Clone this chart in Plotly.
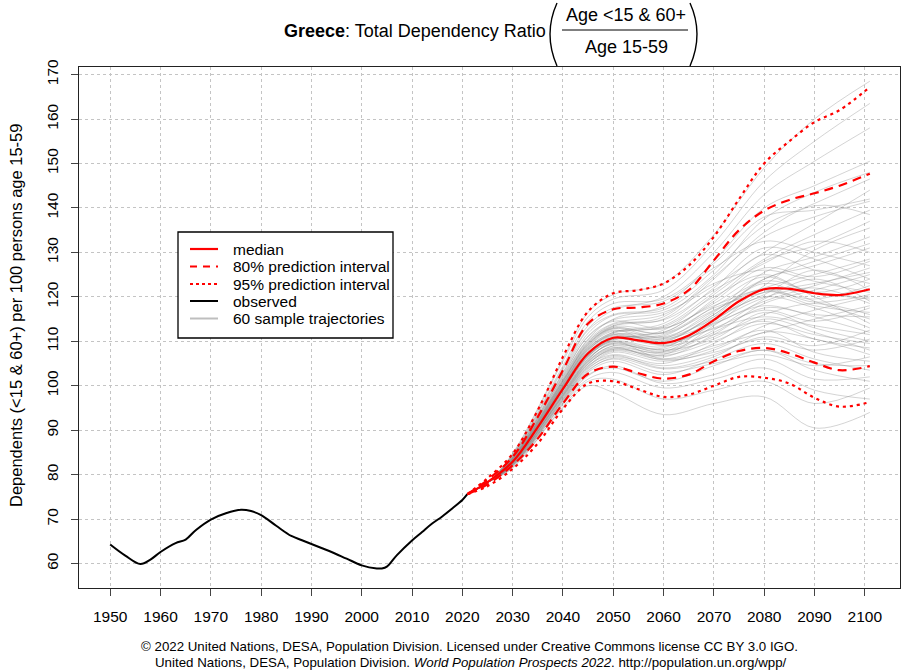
import plotly.graph_objects as go

# ---------------- data ----------------
OBS_YEARS = [1950, 1953, 1956, 1958, 1960, 1963, 1965, 1967, 1970, 1973, 1976, 1978,
             1980, 1983, 1986, 1988, 1990, 1992, 1994, 1997, 2000, 2003, 2004, 2005,
             2007, 2010, 2012, 2014, 2016, 2018, 2020, 2021]
OBS_VALUES = [64.3, 61.8, 59.9, 60.9, 62.6, 64.6, 65.4, 67.5, 69.9, 71.3, 72.1, 71.8,
              70.9, 68.5, 66.2, 65.3, 64.4, 63.5, 62.6, 61.1, 59.6, 58.9, 58.9, 59.3,
              61.9, 65.2, 67.1, 69.0, 70.6, 72.4, 74.3, 75.6]

PROJ_YEARS = [2021, 2025, 2030, 2035, 2040, 2045, 2050, 2055, 2060, 2065, 2070, 2075,
              2080, 2085, 2090, 2095, 2101]
MEDIAN = [75.6, 78.3, 82.9, 90.7, 99.3, 107.3, 110.8, 110.2, 109.6, 111.3, 114.8, 119.0,
          121.7, 121.8, 120.8, 120.4, 121.7]
UPPER80 = [75.6, 78.8, 84.0, 93.0, 103.5, 114.0, 117.2, 117.6, 118.5, 121.5, 128.2, 135.0,
           139.4, 141.8, 143.3, 145.0, 147.7]
LOWER80 = [75.6, 77.8, 82.1, 88.1, 96.0, 102.7, 104.3, 102.8, 101.6, 102.5, 105.5, 107.8,
           108.5, 107.3, 105.2, 103.5, 104.4]
UPPER95 = [75.6, 79.2, 84.7, 94.5, 106.5, 116.7, 120.8, 121.5, 123.0, 127.0, 133.5, 142.0,
           150.0, 155.0, 159.3, 162.0, 167.2]
LOWER95 = [75.6, 77.4, 81.3, 87.0, 94.8, 100.5, 101.0, 99.2, 97.5, 98.0, 100.0, 102.0,
           101.8, 100.5, 97.3, 95.3, 96.3]

TRAJ_STEM_YEARS = [2021, 2025]
TRAJ_STEM_VALUES = [75.6, 78.2]
TRAJ_YEARS = [2030, 2040, 2045, 2050, 2060, 2070, 2080, 2090, 2101]
TRAJECTORIES = [
    [83.1, 99.8, 108.0, 111.5, 110.2, 116.0, 123.5, 121.0, 119.5],
    [82.5, 97.5, 104.5, 107.0, 105.0, 109.5, 115.0, 112.0, 108.0],
    [84.2, 103.0, 112.5, 116.0, 117.5, 126.0, 136.0, 141.0, 146.5],
    [82.0, 96.2, 102.5, 104.0, 101.0, 104.5, 108.0, 103.5, 101.0],
    [83.6, 101.0, 109.5, 113.0, 112.0, 119.5, 128.0, 131.5, 137.0],
    [82.8, 98.5, 106.0, 109.5, 107.5, 112.0, 117.5, 116.0, 115.5],
    [84.6, 105.5, 115.5, 119.5, 121.5, 132.0, 146.0, 155.0, 163.5],
    [81.5, 95.0, 100.0, 98.5, 93.5, 96.0, 97.5, 90.5, 94.0],
    [83.3, 100.2, 108.5, 112.0, 114.0, 122.0, 131.0, 128.5, 124.0],
    [82.3, 97.0, 104.0, 106.5, 104.5, 107.0, 111.0, 109.0, 112.5],
    [83.9, 102.5, 111.0, 114.5, 113.0, 118.0, 121.5, 118.0, 116.5],
    [82.6, 98.0, 105.5, 109.0, 108.5, 115.5, 124.0, 127.0, 131.0],
    [83.0, 99.5, 107.0, 110.0, 106.0, 108.5, 112.5, 107.5, 105.5],
    [84.0, 102.0, 110.5, 115.0, 118.0, 128.0, 140.0, 145.0, 150.5],
    [82.9, 99.0, 106.5, 110.5, 111.5, 117.0, 122.0, 125.0, 128.5],
    [83.4, 100.5, 108.8, 112.5, 109.0, 111.5, 114.5, 110.5, 108.5],
    [81.8, 95.8, 101.5, 103.0, 99.5, 101.5, 104.0, 99.0, 97.0],
    [83.7, 101.5, 110.0, 113.5, 115.5, 124.5, 133.5, 138.0, 141.5],
    [82.4, 97.8, 105.0, 108.0, 107.0, 113.5, 121.0, 119.5, 122.5],
    [83.2, 100.0, 107.5, 111.0, 110.5, 114.0, 119.0, 122.5, 126.5],
    [84.4, 104.0, 113.5, 117.5, 119.0, 126.5, 132.5, 130.0, 127.0],
    [82.1, 96.5, 103.0, 105.5, 102.5, 106.0, 109.5, 106.0, 103.5],
    [83.0, 99.2, 106.8, 110.2, 112.5, 120.5, 128.5, 134.0, 139.5],
    [82.7, 98.2, 105.8, 109.8, 108.0, 110.5, 116.5, 113.0, 110.0],
    [83.5, 100.8, 109.0, 112.8, 111.0, 116.5, 125.5, 129.0, 133.5],
    [82.2, 97.2, 104.2, 107.5, 105.5, 108.0, 113.5, 117.0, 120.0],
    [84.8, 106.0, 116.5, 120.5, 123.0, 134.0, 149.0, 160.0, 168.5],
    [83.1, 99.6, 107.3, 110.8, 109.5, 113.0, 117.0, 114.5, 117.5],
    [81.6, 95.3, 101.0, 101.5, 97.0, 99.0, 101.0, 96.0, 99.5],
    [83.8, 101.8, 110.3, 114.0, 116.0, 123.0, 126.0, 123.5, 121.0],
    [82.5, 97.6, 104.8, 108.3, 106.5, 111.5, 118.5, 121.5, 125.0],
    [83.3, 100.3, 108.3, 111.8, 113.5, 121.0, 129.5, 126.0, 123.0],
    [82.8, 98.8, 106.3, 109.3, 107.8, 112.5, 119.5, 124.0, 119.0],
    [84.1, 102.8, 111.8, 115.8, 117.0, 125.0, 137.5, 143.5, 148.0],
    [82.0, 96.8, 103.5, 106.0, 103.0, 105.0, 107.0, 104.5, 106.5],
    [83.6, 101.2, 109.2, 113.2, 112.8, 118.5, 124.5, 120.0, 114.0],
    [82.9, 99.0, 106.6, 110.0, 108.8, 114.5, 122.5, 130.5, 135.5],
    [83.4, 100.6, 108.7, 112.3, 110.8, 115.0, 120.0, 117.5, 113.0],
    [82.3, 97.3, 104.4, 107.8, 106.0, 109.0, 112.0, 115.0, 118.0],
    [84.3, 103.6, 112.8, 117.0, 120.0, 130.0, 143.0, 150.5, 158.0],
    [83.0, 99.4, 107.0, 110.6, 109.8, 116.0, 123.0, 119.0, 115.0],
    [82.6, 98.1, 105.4, 108.6, 105.8, 107.5, 110.5, 108.0, 110.5],
    [83.7, 101.4, 109.8, 113.8, 114.8, 121.5, 127.5, 132.5, 130.0],
    [82.2, 96.9, 103.8, 106.8, 104.0, 106.5, 112.0, 110.5, 107.0],
    [83.2, 100.0, 108.1, 111.4, 112.0, 119.0, 126.5, 124.5, 128.0],
    [81.9, 96.0, 102.2, 104.5, 100.5, 102.5, 106.0, 101.5, 102.0],
    [83.9, 102.2, 111.2, 114.8, 116.5, 122.5, 130.0, 136.5, 144.0],
    [82.7, 98.4, 105.6, 108.9, 107.2, 111.0, 116.0, 118.5, 116.0],
    [83.5, 100.9, 109.3, 112.9, 111.8, 117.5, 121.0, 123.0, 125.5],
    [82.4, 97.7, 104.9, 108.2, 106.8, 110.0, 114.0, 111.5, 109.5],
    [84.5, 104.5, 114.5, 118.5, 119.5, 127.5, 138.0, 139.5, 142.0],
    [83.1, 99.7, 107.6, 111.2, 110.0, 115.5, 120.5, 126.0, 121.5],
    [82.8, 98.6, 106.0, 109.6, 108.2, 113.8, 118.0, 115.5, 112.0],
    [83.4, 100.4, 108.4, 112.0, 113.2, 120.0, 125.0, 121.0, 124.0],
    [82.1, 96.6, 103.3, 106.2, 103.8, 105.5, 108.0, 105.0, 104.5],
    [83.6, 101.1, 109.6, 113.4, 115.0, 124.0, 134.5, 140.5, 138.5],
    [82.9, 99.1, 106.7, 110.4, 109.2, 112.8, 115.5, 113.5, 111.5],
    [83.0, 99.3, 106.9, 110.7, 111.2, 117.8, 124.0, 128.0, 132.0],
    [82.5, 97.9, 105.2, 108.5, 107.6, 114.2, 119.8, 122.0, 118.5],
    [83.2, 99.9, 107.9, 111.6, 110.6, 116.8, 121.8, 118.8, 120.5],
]

X_TICKS = list(range(1950, 2101, 10))
Y_TICKS = list(range(60, 171, 10))

LEGEND_LABELS = ["median", "80% prediction interval", "95% prediction interval",
                 "observed", "60 sample trajectories"]

# ---------------- layout helpers (pixel -> paper) ----------------
W, H = 906, 672
ML, MR, MT, MB = 79, 6, 67, 84
PW, PH = W - ML - MR, H - MT - MB


def px(x):
    return (x - ML) / PW


def py(y):
    return (H - MB - y) / PH


FONT = "Liberation Sans, Arial, Helvetica, sans-serif"
RED = "#ff0000"
TRAJ_COLOR = "rgba(135,135,135,0.36)"
DOT = "3px,4px"
DASH = "9px,6px"

fig = go.Figure()

# sample trajectories
for traj in TRAJECTORIES:
    fig.add_trace(go.Scatter(
        x=TRAJ_STEM_YEARS + TRAJ_YEARS, y=TRAJ_STEM_VALUES + traj,
        mode="lines", line=dict(color=TRAJ_COLOR, width=1, shape="spline"),
        name=LEGEND_LABELS[4], showlegend=False, hoverinfo="skip"))

# observed
fig.add_trace(go.Scatter(x=OBS_YEARS, y=OBS_VALUES, mode="lines",
                         line=dict(color="black", width=2, shape="spline"),
                         name=LEGEND_LABELS[3], showlegend=False))

# intervals and median
for vals, dash, label in [(UPPER95, DOT, LEGEND_LABELS[2]), (LOWER95, DOT, LEGEND_LABELS[2]),
                          (UPPER80, DASH, LEGEND_LABELS[1]), (LOWER80, DASH, LEGEND_LABELS[1]),
                          (MEDIAN, "solid", LEGEND_LABELS[0])]:
    fig.add_trace(go.Scatter(x=PROJ_YEARS, y=vals, mode="lines",
                             line=dict(color=RED, width=2.2, dash=dash, shape="spline"),
                             name=label, showlegend=False))

axis_common = dict(
    showgrid=True, gridcolor="#c4c4c4", griddash="dot", gridwidth=1,
    showline=True, linecolor="#222222", linewidth=1, mirror=True,
    ticks="outside", ticklen=7, tickcolor="#444444", tickwidth=1,
    tickfont=dict(family=FONT, size=15.5, color="black"),
    zeroline=False,
)

fig.update_layout(
    width=W, height=H,
    margin=dict(l=ML, r=MR, t=MT, b=MB),
    paper_bgcolor="white", plot_bgcolor="white",
    font=dict(family=FONT, color="black"),
    showlegend=False,
    xaxis=dict(range=[1943.8, 2107.0], tickvals=X_TICKS, ticklabelstandoff=7, **axis_common),
    yaxis=dict(range=[54.5, 171.7], tickvals=Y_TICKS, tickangle=-90, ticklabelstandoff=7,
               **axis_common),
)

annotations = [
    dict(text="<b>Greece</b>: Total Dependency Ratio", x=px(548), y=py(31),
         xanchor="right", yanchor="middle", font=dict(size=18)),
    dict(text="Age &lt;15 &amp; 60+", x=px(626), y=py(15),
         xanchor="center", yanchor="middle", font=dict(size=18)),
    dict(text="Age 15-59", x=px(626), y=py(47),
         xanchor="center", yanchor="middle", font=dict(size=18)),
    dict(text="Dependents (&lt;15 &amp; 60+) per 100 persons age 15-59",
         x=px(16), y=py(316), textangle=-90,
         xanchor="center", yanchor="middle", font=dict(size=16.5)),
    dict(text="© 2022 United Nations, DESA, Population Division. Licensed under Creative Commons license CC BY 3.0 IGO.",
         x=px(469), y=py(646), xanchor="center", yanchor="middle", font=dict(size=13.3)),
    dict(text="United Nations, DESA, Population Division. <i>World Population Prospects 2022</i>. http://population.un.org/wpp/",
         x=px(471), y=py(662), xanchor="center", yanchor="middle", font=dict(size=13.3)),
]

# legend (drawn as a boxed key, like the original)
LEG_ROWS_Y = [249, 266.5, 284, 301, 318.5]
LEG_STYLES = [(RED, "solid", 2.2), (RED, "7px,6px", 2.2), (RED, "3px,3px", 2.2),
              ("black", "solid", 2), ("rgb(190,190,190)", "solid", 2)]
shapes = [dict(type="rect", x0=px(178), x1=px(393), y0=py(232), y1=py(338),
               line=dict(color="black", width=1.3), fillcolor="white", layer="above")]
for ry, (col, dsh, wd), lab in zip(LEG_ROWS_Y, LEG_STYLES, LEGEND_LABELS):
    shapes.append(dict(type="line", x0=px(190), x1=px(218), y0=py(ry), y1=py(ry),
                       line=dict(color=col, width=wd, dash=dsh), layer="above"))
    annotations.append(dict(text=lab, x=px(231), y=py(ry), xanchor="left",
                            yanchor="middle", font=dict(size=15.5)))

for a in annotations:
    a.update(xref="paper", yref="paper", showarrow=False)
    a.setdefault("font", {})
    a["font"].setdefault("family", FONT)
    a["font"].setdefault("color", "black")

# fraction bar and tall parentheses of the title
shapes += [
    dict(type="line", x0=px(562), x1=px(688), y0=py(30), y1=py(30),
         line=dict(color="black", width=1)),
    dict(type="path",
         path=f"M {px(557)},{py(3)} Q {px(543)},{py(34)} {px(557)},{py(66)}",
         line=dict(color="black", width=1.4)),
    dict(type="path",
         path=f"M {px(690)},{py(3)} Q {px(704)},{py(34)} {px(690)},{py(66)}",
         line=dict(color="black", width=1.4)),
]
for s in shapes:
    s.update(xref="paper", yref="paper")

fig.update_layout(annotations=annotations, shapes=shapes)

fig.write_html("out.html")
